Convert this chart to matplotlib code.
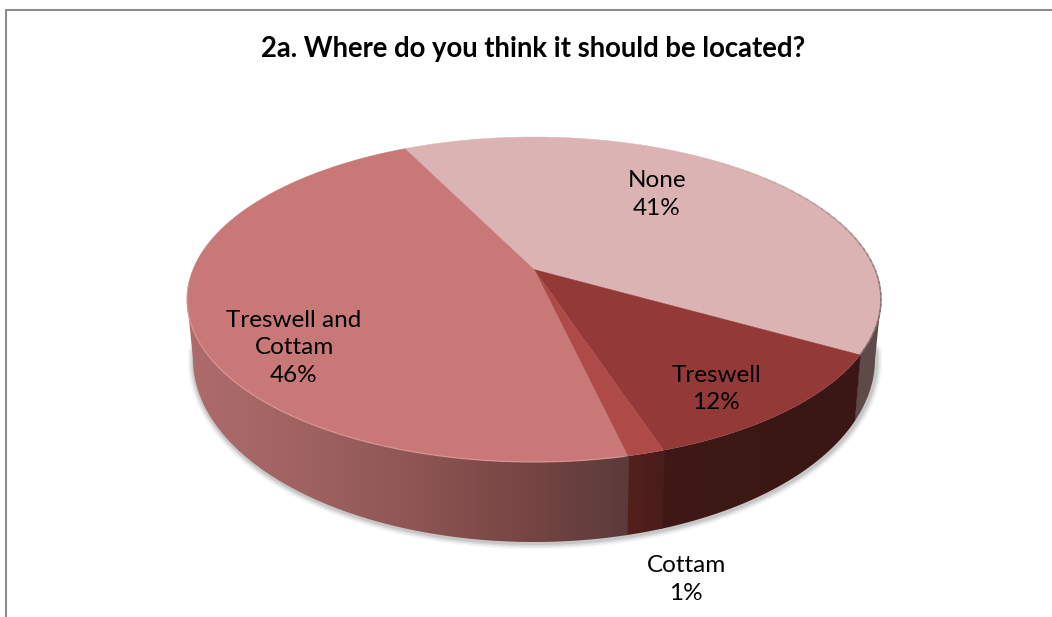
import matplotlib
matplotlib.use("Agg")
import matplotlib.pyplot as plt
import numpy as np
from matplotlib.colors import LinearSegmentedColormap
from matplotlib.patches import Polygon

plt.rcParams['font.family'] = ['Lato', 'DejaVu Sans']

title = "2a. Where do you think it should be located?"
labels = ["None", "Treswell", "Cottam", "Treswell and\nCottam"]
values = [40.51, 11.7, 1.45, 46.34]  # labels round them
top_colors = ["#DBB3B3", "#933A38", "#AE4A47", "#C77877"]
wall_stops = [["#5F4A4A", "#5F4A4A"],
              ["#3E1916", "#3A1714"],
              ["#54201D", "#4A1C1A"],
              ["#AE6C6B", "#A06362", "#8E5655", "#784644", "#5B3A3A"]]
label_pos = [(657, 194.5), (716, 389), (686, 579.5), (294, 348)]

start_angle = 116.2
beta = 30 / 162.5  # apex sits above the ellipse centre (perspective)
top_c = (534, 299.5)
top_r = (347, 162.5)
bot_c = (534, 359)
bot_r = (341, 183)


def to_screen(phi):
    # true pie angle -> angle round the drawn ellipse
    phi = np.radians(phi)
    g = np.sqrt(1 - beta ** 2)
    d = 1 + beta * np.sin(phi)
    return np.arctan2((np.sin(phi) + beta) / d, np.cos(phi) * g / d)


def top_xy(t):
    return top_c[0] + top_r[0] * np.cos(t), top_c[1] - top_r[1] * np.sin(t)


def bot_xy(t):
    return bot_c[0] + bot_r[0] * np.cos(t), bot_c[1] - bot_r[1] * np.sin(t)


fig = plt.figure(figsize=(10.52, 6.17), dpi=100)
ax = fig.add_axes([0, 0, 1, 1])
ax.axis('off')

# chart frame, cut off at the right and the bottom of the picture
ax.plot([6, 6, 1052], [617, 9.5, 9.5], color="#8C8C8C", lw=1.5)

# soft shadow under the wall
ts = np.linspace(-np.pi - 0.05, 0.05, 300)
sx, sy = bot_xy(ts)
for w, a in [(9, 0.05), (7, 0.07), (5, 0.1), (3, 0.14)]:
    ax.plot(sx + 1, sy + 1, color="#555555", lw=w, alpha=a, solid_capstyle='round')

apex = (top_c[0], top_c[1] - top_r[1] * beta)
bounds = start_angle - np.cumsum([0] + values) * 3.6

for i in range(len(values)):
    # side wall, only the part facing the viewer
    # (0.2 deg overlap with the wall before it, else a white seam shows)
    t = np.degrees(to_screen(np.linspace(bounds[i] + 0.2, bounds[i + 1], 400)))
    t = np.radians(((t + 360) % 360) - 360)  # -360..0
    t = t[(t > -np.pi) & (t < 0)]
    if len(t):
        tx, ty = top_xy(t)
        bx, by = bot_xy(t)
        wall = Polygon(np.column_stack([np.r_[tx, bx[::-1]], np.r_[ty, by[::-1]]]),
                       closed=True, facecolor='none', edgecolor='none')
        ax.add_patch(wall)
        x0, x1 = min(tx.min(), bx.min()), max(tx.max(), bx.max())
        cmap = LinearSegmentedColormap.from_list("w%d" % i, wall_stops[i])
        im = ax.imshow(np.linspace(0, 1, 256)[None, :], cmap=cmap, aspect='auto',
                       extent=[x0, x1, 560, 250], zorder=2)
        im.set_clip_path(wall)

for i in range(len(values)):
    # top face
    t = to_screen(np.linspace(bounds[i], bounds[i + 1], 300))
    tx, ty = top_xy(np.unwrap(t))
    ax.fill(np.r_[apex[0], tx], np.r_[apex[1], ty], color=top_colors[i], lw=0.3, zorder=3)

# light bevel on the rim of the left slice
t = np.radians(np.linspace(-75, -185, 200))
rx, ry = top_xy(t)
ax.plot(rx, ry, color="#E29A98", lw=1.0, alpha=0.65, zorder=4)

# dark edge on the right of the top slice, fading out going up
edge = np.radians(np.linspace(-20, 60, 41))
for k in range(len(edge) - 1):
    rx, ry = top_xy(edge[k:k + 2])
    ax.plot(rx, ry, color="#6E5A5A", lw=1.2, alpha=0.8 * (1 - k / 40), zorder=4)

for lab, val, (x, y) in zip(labels, values, label_pos):
    ax.text(x, y, "%s\n%.0f%%" % (lab, val), ha='center', va='center', fontsize=17.5,
            color="black", linespacing=1.4, zorder=5)

ax.text(533, 48.5, title, ha='center', va='center', fontsize=19.8, fontweight='bold', color="black")

ax.set_xlim(0, 1052)
ax.set_ylim(617, 0)
fig.savefig("out.png", dpi=100)
